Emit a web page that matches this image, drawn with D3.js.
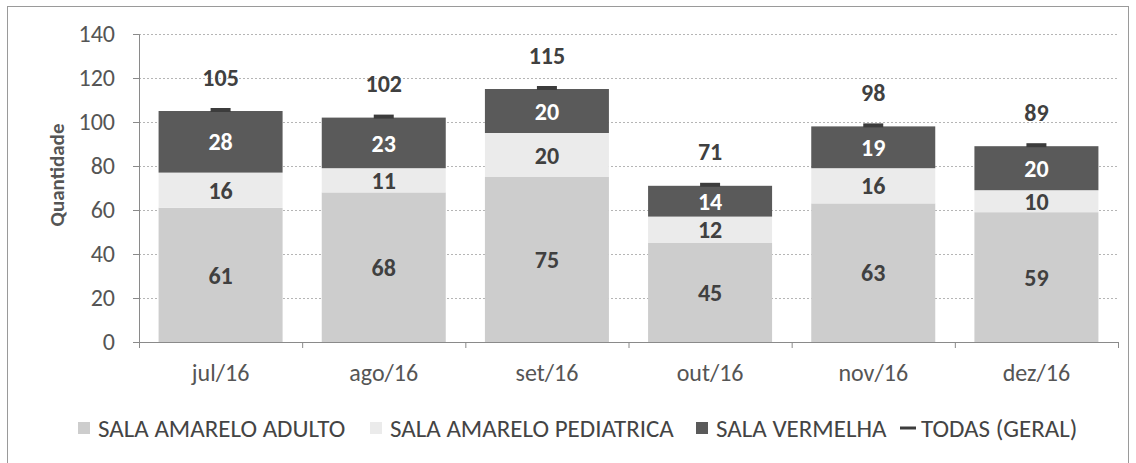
<!DOCTYPE html>
<html lang="pt">
<head>
<meta charset="utf-8">
<title>Quantidade por sala</title>
<script src="https://d3js.org/d3.v7.min.js"></script>
<style>
  body { margin: 0; background: #fff; }
  text { font-family: Carlito, Calibri, Lato, sans-serif; }
</style>
</head>
<body>
<div id="chart"></div>
<script>
// data
var months = ["jul/16", "ago/16", "set/16", "out/16", "nov/16", "dez/16"];
var adulto = [61, 68, 75, 45, 63, 59];
var pediatrica = [16, 11, 20, 12, 16, 10];
var vermelha = [28, 23, 20, 14, 19, 20];
var geral = [105, 102, 115, 71, 98, 89];
var yTicks = [0, 20, 40, 60, 80, 100, 120, 140];

var seriesNames = ["SALA AMARELO ADULTO", "SALA AMARELO PEDIATRICA", "SALA VERMELHA"];
var seriesColors = ["#cdcdcd", "#ebebeb", "#5a5a5a"];
var seriesText = ["#404040", "#404040", "#ffffff"];

var W = 1136, H = 463;
var margin = {top: 34, right: 18, bottom: 121, left: 139};
var iw = W - margin.left - margin.right,
    ih = H - margin.top - margin.bottom;
var FS = 24;

var svg = d3.select("#chart").append("svg")
  .attr("width", W).attr("height", H);

// outer frame
svg.append("rect")
  .attr("x", 7.5).attr("y", 6.5)
  .attr("width", 1121).attr("height", 470)
  .attr("fill", "none").attr("stroke", "#9a9a9a").attr("stroke-width", 1);

var g = svg.append("g")
  .attr("transform", "translate(" + margin.left + "," + margin.top + ")");

var x = d3.scaleBand().domain(months).range([0, iw]).paddingInner(0.24).paddingOuter(0.12);
var y = d3.scaleLinear().domain([0, 140]).range([ih, 0]);

// grid
g.selectAll(".grid").data(yTicks.slice(1)).enter().append("line")
  .attr("x1", 0).attr("x2", iw)
  .attr("y1", function(d) { return y(d) + 0.5; })
  .attr("y2", function(d) { return y(d) + 0.5; })
  .attr("stroke", "#b5b5b5").attr("stroke-dasharray", "2,2");

// stacked data
var table = months.map(function(m, i) {
  return {month: m, s0: adulto[i], s1: pediatrica[i], s2: vermelha[i], total: geral[i]};
});
var stack = d3.stack().keys(["s0", "s1", "s2"])(table);

var layers = g.selectAll(".layer").data(stack).enter().append("g")
  .attr("fill", function(d, i) { return seriesColors[i]; });

layers.selectAll("rect").data(function(d) { return d; }).enter().append("rect")
  .attr("x", function(d) { return x(d.data.month); })
  .attr("y", function(d) { return y(d[1]); })
  .attr("width", x.bandwidth())
  .attr("height", function(d) { return y(d[0]) - y(d[1]); });

// segment labels
stack.forEach(function(layer, i) {
  g.selectAll(".lbl" + i).data(layer).enter().append("text")
    .attr("x", function(d) { return x(d.data.month) + x.bandwidth() / 2; })
    .attr("y", function(d) { return y((d[0] + d[1]) / 2); })
    .attr("dy", "0.36em")
    .attr("text-anchor", "middle")
    .attr("font-size", FS).attr("font-weight", "bold")
    .attr("fill", seriesText[i])
    .text(function(d) { return d.data[layer.key]; });
});

// total markers (dash) and labels
g.selectAll(".mark").data(table).enter().append("line")
  .attr("x1", function(d) { return x(d.month) + x.bandwidth() / 2 - 10; })
  .attr("x2", function(d) { return x(d.month) + x.bandwidth() / 2 + 10; })
  .attr("y1", function(d) { return y(d.total) - 1; })
  .attr("y2", function(d) { return y(d.total) - 1; })
  .attr("stroke", "#3c3c3c").attr("stroke-width", 4);

g.selectAll(".tot").data(table).enter().append("text")
  .attr("x", function(d) { return x(d.month) + x.bandwidth() / 2; })
  .attr("y", function(d) { return y(d.total) - 34; })
  .attr("dy", "0.36em")
  .attr("text-anchor", "middle")
  .attr("font-size", FS).attr("font-weight", "bold")
  .attr("fill", "#404040")
  .text(function(d) { return d.total; });

// axes
var yAxis = g.append("g")
  .call(d3.axisLeft(y).tickValues(yTicks).tickSize(6).tickPadding(18));
var xAxis = g.append("g")
  .attr("transform", "translate(0," + ih + ")")
  .call(d3.axisBottom(x).tickSize(0).tickPadding(22));

// tick marks on band boundaries
xAxis.selectAll(".sep").data(d3.range(months.length + 1)).enter().append("line")
  .attr("x1", function(i) { return i * iw / months.length + 0.5; })
  .attr("x2", function(i) { return i * iw / months.length + 0.5; })
  .attr("y1", 0).attr("y2", 6)
  .attr("stroke", "#8a8a8a");

[yAxis, xAxis].forEach(function(ax) {
  ax.select(".domain").attr("stroke", "#8a8a8a");
  ax.selectAll(".tick line").attr("stroke", "#8a8a8a");
  ax.selectAll(".tick text")
    .attr("font-size", FS).attr("fill", "#555")
    .style("font-family", "Carlito, Calibri, Lato, sans-serif");
});

// y title
svg.append("text")
  .attr("transform", "translate(56,175) rotate(-90)")
  .attr("text-anchor", "middle")
  .attr("dy", "0.36em")
  .attr("font-size", 21).attr("font-weight", "bold")
  .attr("fill", "#555")
  .text("Quantidade");

// legend
var legendX = [78, 370, 696, 900];
var legend = svg.append("g").attr("transform", "translate(0,428)");
seriesNames.forEach(function(name, i) {
  legend.append("rect")
    .attr("x", legendX[i]).attr("y", -6)
    .attr("width", 12).attr("height", 12)
    .attr("fill", seriesColors[i]);
  legend.append("text")
    .attr("x", legendX[i] + 20).attr("dy", "0.36em")
    .attr("font-size", 25).attr("fill", "#444")
    .text(name);
});
legend.append("line")
  .attr("x1", legendX[3]).attr("x2", legendX[3] + 16)
  .attr("stroke", "#3c3c3c").attr("stroke-width", 3);
legend.append("text")
  .attr("x", legendX[3] + 21).attr("dy", "0.36em")
  .attr("font-size", 25).attr("fill", "#444")
  .text("TODAS (GERAL)");
</script>
</body>
</html>
